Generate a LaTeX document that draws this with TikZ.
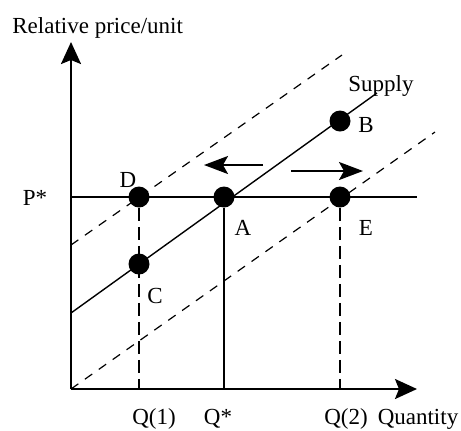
\documentclass[tikz,border=0pt]{standalone}
\usepackage{fontspec}
\setmainfont{Liberation Serif}
\usetikzlibrary{arrows.meta,positioning}

\begin{document}
\begin{tikzpicture}[
        x=0.5pt, y=-0.5pt,
        axis/.style={line width=1.1pt, -{Stealth[length=11pt, width=10pt, inset=2pt]}},
        shift arrow/.style={line width=1pt, -{Stealth[length=12pt, width=9pt, inset=2.5pt]}},
        curve/.style={line width=0.7pt},
        shifted/.style={line width=0.6pt, dash pattern=on 4.5pt off 4pt},
        drop/.style={line width=1pt, dash pattern=on 6.5pt off 3pt},
        dot/.style={circle, fill, inner sep=0pt, minimum size=10.5pt},
        lbl/.style={font=\fontsize{11.5}{13}\selectfont, inner sep=0pt, anchor=base},
    ]
        \useasboundingbox (0,0) rectangle (461,430);
        % axes
        \coordinate (O) at (71,389);
        \coordinate (ytop) at (71,42);
        \coordinate (xend) at (417,389);
        \draw[axis] (O) -- (ytop);
        \draw[axis] (O) -- (xend);
        \node[lbl, anchor=base west] (ylab) at (12,33) {Relative price/unit};
        \node[lbl] (xlab) at (418,424) {Quantity};
        % price line
        \coordinate (pl) at (71,197);
        \coordinate (pr) at (417,197);
        \draw[line width=1pt] (pl) -- (pr);
        \node[lbl] (pstar) at (35,205) {P*};
        % supply curves
        \coordinate (s0) at (71,313);
        \coordinate (s1) at (377,93);
        \coordinate (u0) at (71,245);
        \coordinate (u1) at (342,55);
        \coordinate (l1) at (435,132);
        \draw[curve] (s0) -- (s1);
        \draw[shifted] (u0) -- (u1);
        \draw[shifted] (O) -- (l1);
        \node[lbl] (supply) at (381,91) {Supply};
        % points
        \node[dot] (A) at (224,197) {};
        \node[dot] (B) at (340,121) {};
        \node[dot] (C) at (139,264) {};
        \node[dot] (D) at (139,197) {};
        \node[dot] (E) at (340,197) {};
        \node[lbl] at (243,235) {A};
        \node[lbl] at (366,132) {B};
        \node[lbl] at (155,303) {C};
        \node[lbl] at (128,187) {D};
        \node[lbl] at (366,235) {E};
        % quantities
        \coordinate (q1) at (139,389);
        \coordinate (qs) at (224,389);
        \coordinate (q2) at (340,389);
        \draw[drop] (D) -- (q1);
        \draw[line width=1pt] (A) -- (qs);
        \draw[drop] (E) -- (q2);
        \node[lbl] at (154,424) {Q(1)};
        \node[lbl] at (218,424) {Q*};
        \node[lbl] at (346,424) {Q(2)};
        % shifts
        \coordinate (la) at (263,165);
        \coordinate (lb) at (204,165);
        \coordinate (ra) at (291,171);
        \coordinate (rb) at (363,171);
        \draw[shift arrow] (la) -- (lb);
        \draw[shift arrow] (ra) -- (rb);
    \end{tikzpicture}
\end{document}
